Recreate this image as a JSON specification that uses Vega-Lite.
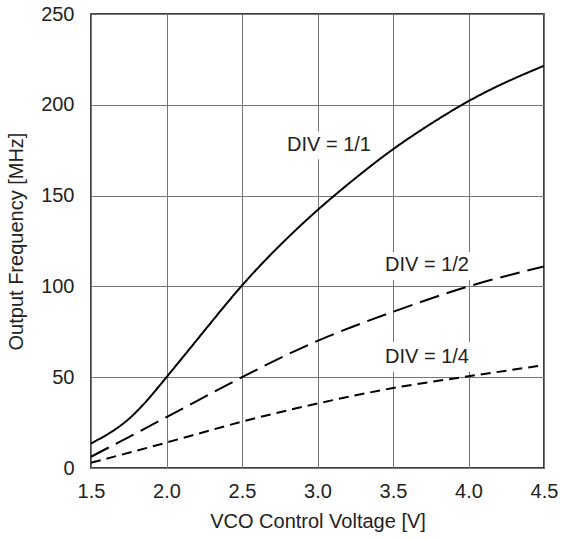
{
  "$schema": "https://vega.github.io/schema/vega-lite/v6.json",
  "width": 453,
  "height": 454,
  "autosize": {"type": "none"},
  "padding": {"left": 91, "top": 14, "right": 17, "bottom": 70},
  "background": "white",
  "config": {
    "font": "Liberation Sans",
    "view": {"stroke": "black", "strokeWidth": 1.5},
    "axis": {
      "labelFont": "Liberation Sans",
      "titleFont": "Liberation Sans",
      "labelFontSize": 20,
      "titleFontSize": 20,
      "titleFontWeight": "normal",
      "labelColor": "#222",
      "titleColor": "#222",
      "labelFlush": false,
      "labelOverlap": false,
      "ticks": false,
      "domain": false,
      "gridColor": "#777",
      "gridOpacity": 1,
      "gridWidth": 1
    }
  },
  "datasets": {
    "curves": [
      {"v": 1.5, "f": 13.5, "div": "1/1"},
      {"v": 1.75, "f": 27, "div": "1/1"},
      {"v": 2.0, "f": 50, "div": "1/1"},
      {"v": 2.25, "f": 75.5, "div": "1/1"},
      {"v": 2.5, "f": 100.5, "div": "1/1"},
      {"v": 2.75, "f": 122.5, "div": "1/1"},
      {"v": 3.0, "f": 142, "div": "1/1"},
      {"v": 3.25, "f": 159.5, "div": "1/1"},
      {"v": 3.5, "f": 175.5, "div": "1/1"},
      {"v": 3.75, "f": 189.5, "div": "1/1"},
      {"v": 4.0, "f": 202, "div": "1/1"},
      {"v": 4.25, "f": 212.5, "div": "1/1"},
      {"v": 4.5, "f": 221.5, "div": "1/1"},
      {"v": 1.5, "f": 6.2, "div": "1/2"},
      {"v": 2.0, "f": 28, "div": "1/2"},
      {"v": 2.5, "f": 50, "div": "1/2"},
      {"v": 3.0, "f": 70, "div": "1/2"},
      {"v": 3.5, "f": 86, "div": "1/2"},
      {"v": 4.0, "f": 100, "div": "1/2"},
      {"v": 4.5, "f": 111, "div": "1/2"},
      {"v": 1.5, "f": 2.9, "div": "1/4"},
      {"v": 2.0, "f": 14, "div": "1/4"},
      {"v": 2.5, "f": 25.5, "div": "1/4"},
      {"v": 3.0, "f": 35.5, "div": "1/4"},
      {"v": 3.5, "f": 44, "div": "1/4"},
      {"v": 4.0, "f": 50.5, "div": "1/4"},
      {"v": 4.5, "f": 56.7, "div": "1/4"}
    ],
    "labels": [
      {"x": 2.798, "y": 178, "x1": 2.76, "x2": 3.40, "y1": 170, "y2": 185.5, "t": "DIV = 1/1"},
      {"x": 3.447, "y": 111.8, "x1": 3.41, "x2": 4.06, "y1": 103.5, "y2": 119, "t": "DIV = 1/2"},
      {"x": 3.447, "y": 61.1, "x1": 3.41, "x2": 4.06, "y1": 53, "y2": 69.4, "t": "DIV = 1/4"}
    ]
  },
  "layer": [
    {
      "data": {"name": "labels"},
      "mark": {"type": "rect", "color": "white"},
      "encoding": {
        "x": {"field": "x1", "type": "quantitative", "scale": {"domain": [1.5, 4.5], "nice": false, "zero": false},
          "axis": {"values": [1.5, 2.0, 2.5, 3.0, 3.5, 4.0, 4.5], "format": ".1f", "title": "VCO Control Voltage [V]", "labelPadding": 13, "titlePadding": 10}},
        "x2": {"field": "x2"},
        "y": {"field": "y1", "type": "quantitative", "scale": {"domain": [0, 250], "nice": false},
          "axis": {"values": [0, 50, 100, 150, 200, 250], "title": "Output Frequency [MHz]", "labelPadding": 17, "titlePadding": 14}},
        "y2": {"field": "y2"}
      }
    },
    {
      "data": {"name": "curves"},
      "mark": {"type": "line", "interpolate": "natural", "color": "black", "strokeWidth": 2, "clip": true},
      "encoding": {
        "x": {"field": "v", "type": "quantitative", "scale": {"domain": [1.5, 4.5], "nice": false, "zero": false}},
        "y": {"field": "f", "type": "quantitative", "scale": {"domain": [0, 250], "nice": false}},
        "detail": {"field": "div"},
        "strokeDash": {
          "field": "div", "type": "nominal", "legend": null,
          "scale": {"domain": ["1/1", "1/2", "1/4"], "range": [[1, 0], [20, 8], [10, 6]]}
        }
      }
    },
    {
      "data": {"name": "labels"},
      "mark": {"type": "text", "align": "left", "baseline": "middle", "fontSize": 20, "color": "#222", "font": "Liberation Sans"},
      "encoding": {
        "x": {"field": "x", "type": "quantitative", "scale": {"domain": [1.5, 4.5], "nice": false, "zero": false}},
        "y": {"field": "y", "type": "quantitative", "scale": {"domain": [0, 250], "nice": false}},
        "text": {"field": "t"}
      }
    }
  ]
}
